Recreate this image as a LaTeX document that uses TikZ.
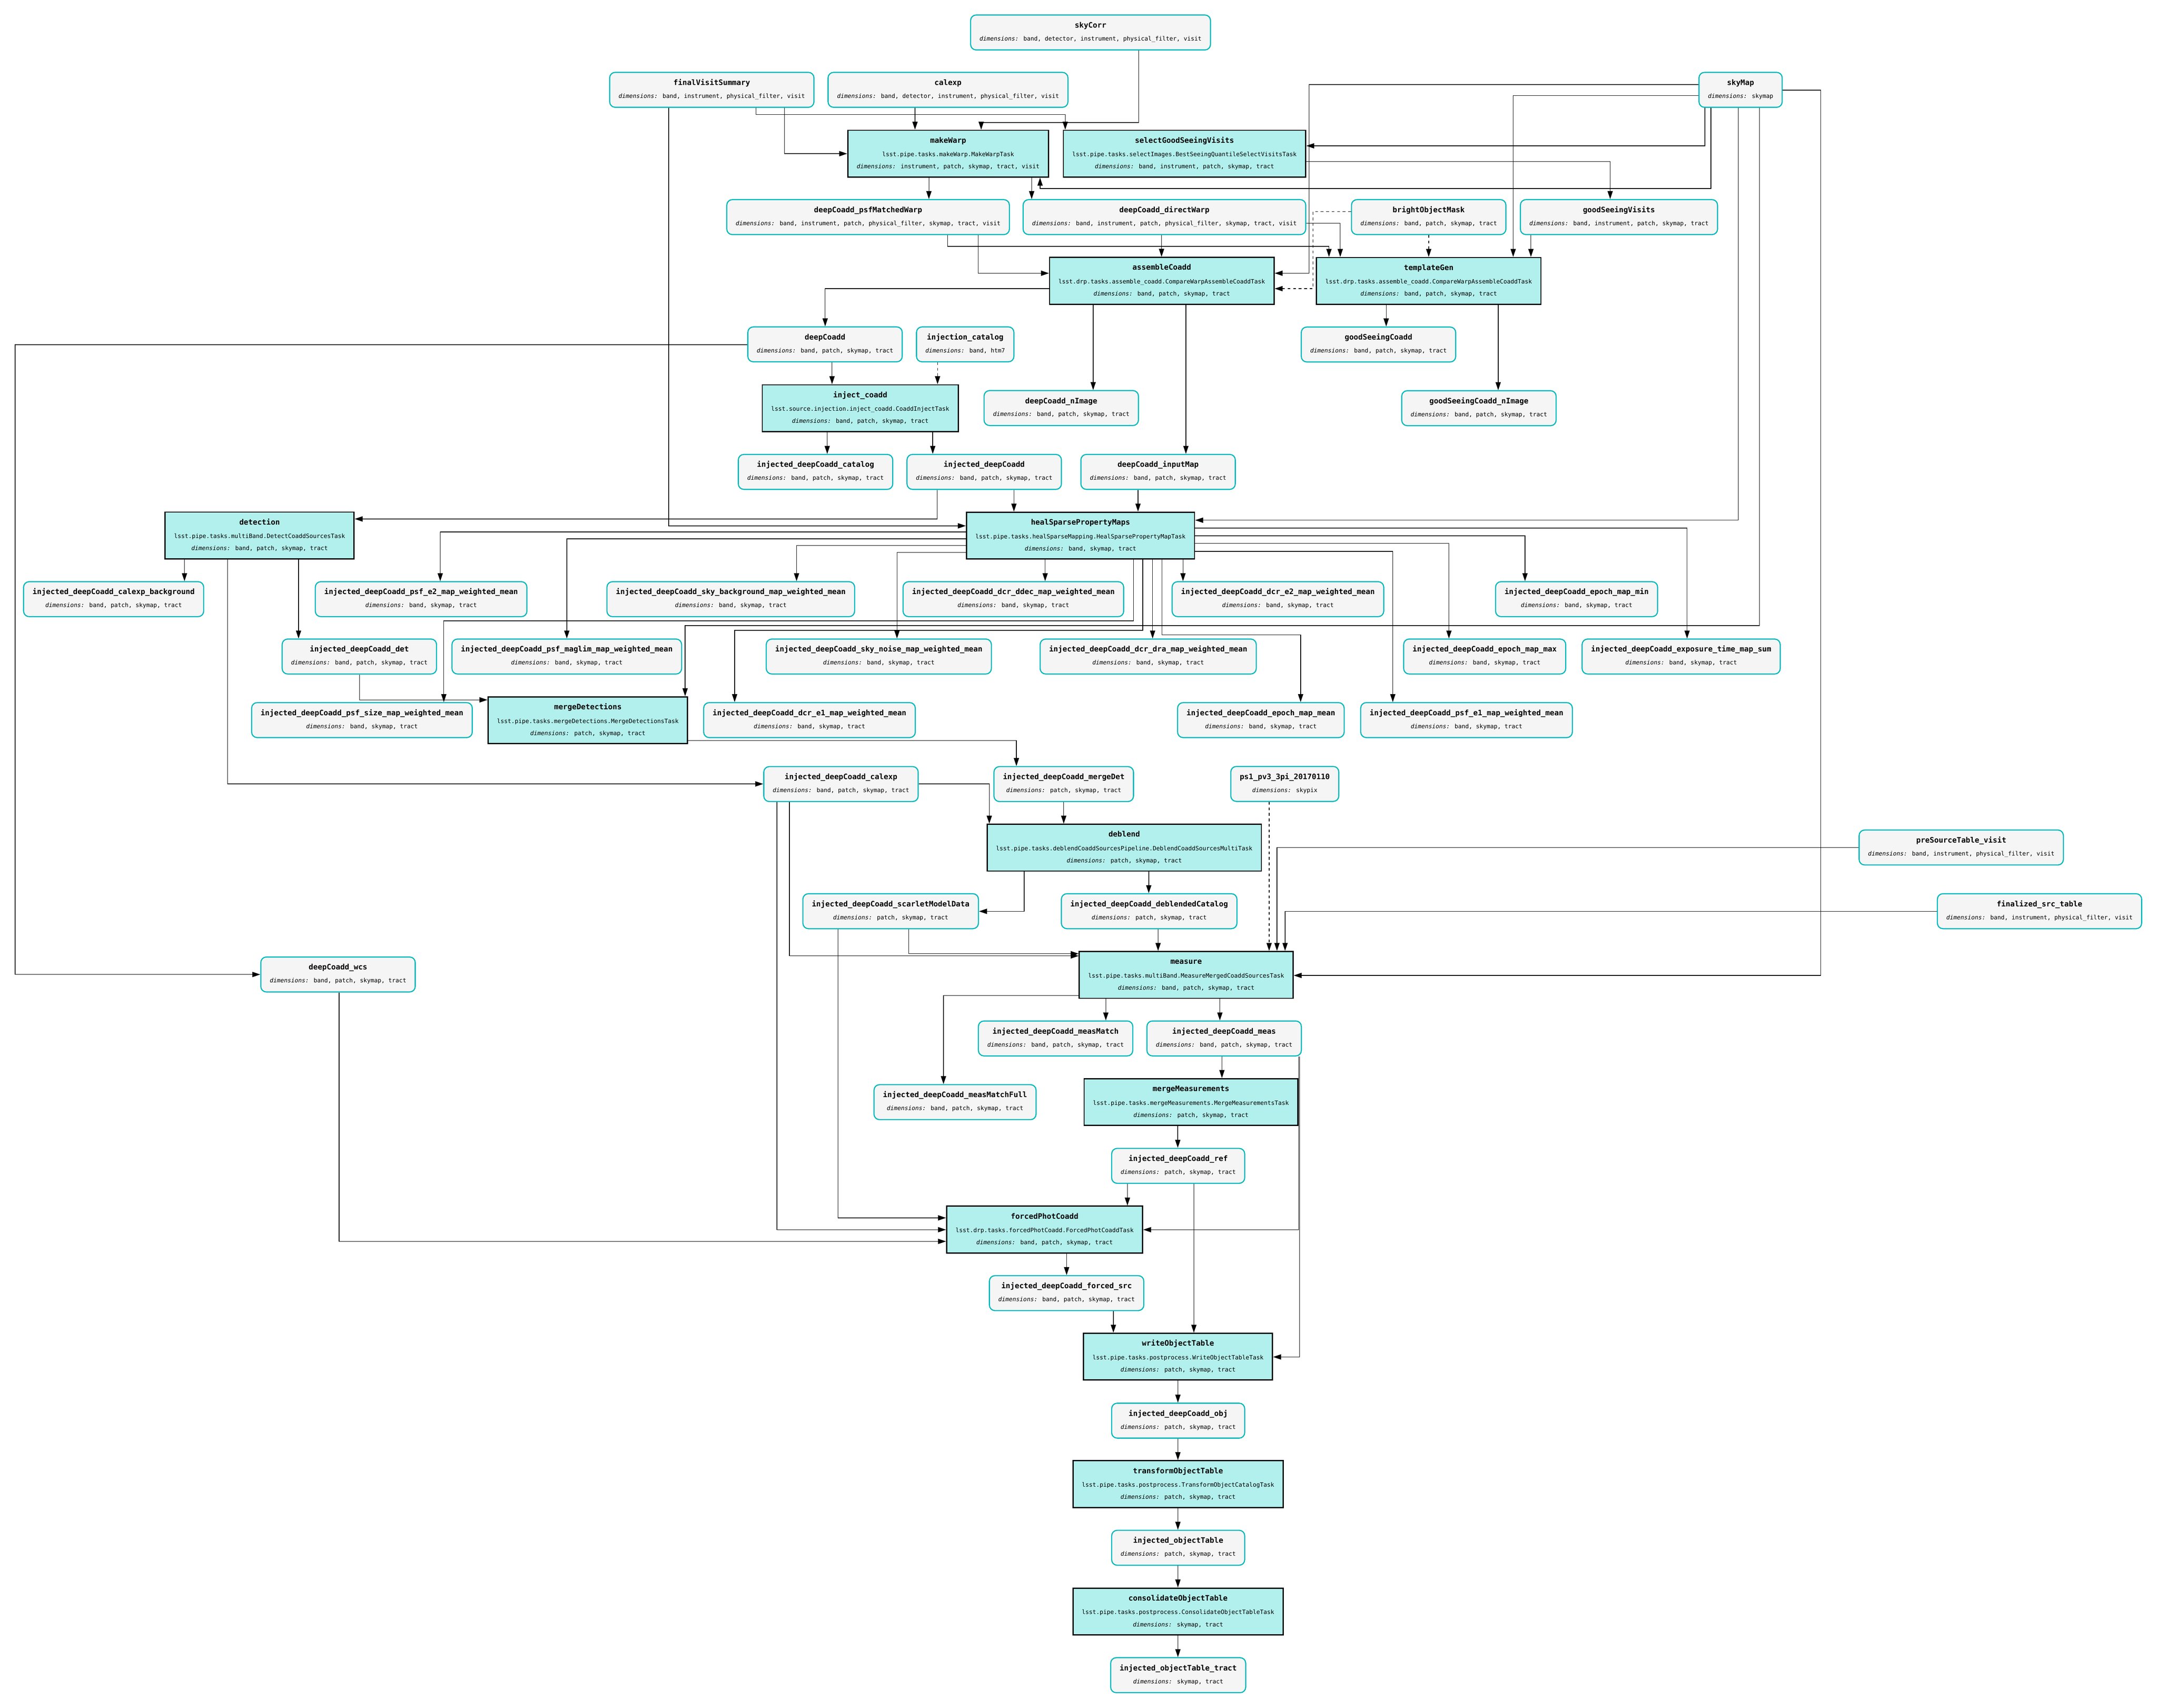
\documentclass[tikz,border=0pt]{standalone}
\usepackage{fontspec}
\setmainfont{DejaVu Sans Mono}[BoldFont={DejaVu Sans Mono Bold},ItalicFont={DejaVu Sans Mono Oblique},BoldItalicFont={DejaVu Sans Mono Bold Oblique}]
\usetikzlibrary{arrows.meta}
\definecolor{dsborder}{RGB}{0,184,188}
\definecolor{dsfill}{RGB}{245,245,245}
\definecolor{tkfill}{RGB}{178,240,237}
\renewcommand\arraystretch{0}
\newcommand\ttlf{\fontsize{5.44pt}{6pt}\selectfont\bfseries}
\newcommand\dtlf{\fontsize{4.3pt}{5pt}\selectfont}
\newcommand\DS[2]{\begin{tabular}{@{}c@{}}\rule[-4.7pt]{0pt}{9.3pt}{\ttlf #1}\\\rule[-2pt]{0pt}{6.7pt}{\dtlf\textit{dimensions:} #2}\end{tabular}}
\newcommand\TK[3]{\begin{tabular}{@{}c@{}}\rule[-4.9pt]{0pt}{9.5pt}{\ttlf #1}\\\rule[-4pt]{0pt}{9pt}{\dtlf #2}\\\rule[-1.5pt]{0pt}{6.3pt}{\dtlf\textit{dimensions:} #3}\end{tabular}}
\tikzset{
 ds/.style={draw=dsborder, fill=dsfill, line width=0.8pt, rounded corners=4pt, minimum height=25.4pt, inner xsep=6.5pt, inner ysep=0pt},
 tk/.style={draw=black, fill=tkfill, line width=0.9pt, minimum height=34pt, inner xsep=6.5pt, inner ysep=0pt},
 e/.style={line width=0.45pt, -{Triangle[length=5.8pt,width=3.8pt]}},
 dsh/.style={e, dash pattern=on 2pt off 2pt},
}
\begin{document}
\begin{tikzpicture}[x=1pt,y=-1pt]
\path[use as bounding box, fill=white] (0,0) rectangle (1567.9,1241.3);
% ---------- nodes ----------
\node[ds] (skyCorr) at (792.7,23.6) {\DS{skyCorr}{band, detector, instrument, physical\_filter, visit}};
\node[ds] (fvs) at (517.4,65.3) {\DS{finalVisitSummary}{band, instrument, physical\_filter, visit}};
\node[ds] (calexp) at (689.1,65.3) {\DS{calexp}{band, detector, instrument, physical\_filter, visit}};
\node[ds] (skyMap) at (1265.2,65.3) {\DS{skyMap}{skymap}};
\node[tk] (makeWarp) at (689.2,111.7) {\TK{makeWarp}{lsst.pipe.tasks.makeWarp.MakeWarpTask}{instrument, patch, skymap, tract, visit}};
\node[tk] (sgsv) at (861,111.7) {\TK{selectGoodSeeingVisits}{lsst.pipe.tasks.selectImages.BestSeeingQuantileSelectVisitsTask}{band, instrument, patch, skymap, tract}};
\node[ds] (psfmw) at (631,157.8) {\DS{deepCoadd\_psfMatchedWarp}{band, instrument, patch, physical\_filter, skymap, tract, visit}};
\node[ds] (dirw) at (846.4,157.8) {\DS{deepCoadd\_directWarp}{band, instrument, patch, physical\_filter, skymap, tract, visit}};
\node[ds] (bom) at (1038.5,157.8) {\DS{brightObjectMask}{band, patch, skymap, tract}};
\node[ds] (gsv) at (1176.8,157.8) {\DS{goodSeeingVisits}{band, instrument, patch, skymap, tract}};
\node[tk] (asm) at (844.5,204.1) {\TK{assembleCoadd}{lsst.drp.tasks.assemble\_coadd.CompareWarpAssembleCoaddTask}{band, patch, skymap, tract}};
\node[tk] (tgen) at (1038.5,204.2) {\TK{templateGen}{lsst.drp.tasks.assemble\_coadd.CompareWarpAssembleCoaddTask}{band, patch, skymap, tract}};
\node[ds] (dc) at (599.7,250.3) {\DS{deepCoadd}{band, patch, skymap, tract}};
\node[ds] (injcat) at (701.6,250.3) {\DS{injection\_catalog}{band, htm7}};
\node[ds] (gsc) at (1002,250.4) {\DS{goodSeeingCoadd}{band, patch, skymap, tract}};
\node[tk] (injc) at (625.3,296.7) {\TK{inject\_coadd}{lsst.source.injection.inject\_coadd.CoaddInjectTask}{band, patch, skymap, tract}};
\node[ds] (dcn) at (771.4,296.6) {\DS{deepCoadd\_nImage}{band, patch, skymap, tract}};
\node[ds] (gscn) at (1075,296.7) {\DS{goodSeeingCoadd\_nImage}{band, patch, skymap, tract}};
\node[ds] (idcat) at (592.8,343) {\DS{injected\_deepCoadd\_catalog}{band, patch, skymap, tract}};
\node[ds] (idc) at (715.4,343) {\DS{injected\_deepCoadd}{band, patch, skymap, tract}};
\node[ds] (dcim) at (841.8,343) {\DS{deepCoadd\_inputMap}{band, patch, skymap, tract}};
\node[tk] (det) at (188.7,389.2) {\TK{detection}{lsst.pipe.tasks.multiBand.DetectCoaddSourcesTask}{band, patch, skymap, tract}};
\node[tk] (hsp) at (785.4,389.3) {\TK{healSparsePropertyMaps}{lsst.pipe.tasks.healSparseMapping.HealSparsePropertyMapTask}{band, skymap, tract}};
\node[ds] (bkg) at (82.6,435.5) {\DS{injected\_deepCoadd\_calexp\_background}{band, patch, skymap, tract}};
\node[ds] (psfe2) at (306.1,435.5) {\DS{injected\_deepCoadd\_psf\_e2\_map\_weighted\_mean}{band, skymap, tract}};
\node[ds] (skybg) at (531.2,435.5) {\DS{injected\_deepCoadd\_sky\_background\_map\_weighted\_mean}{band, skymap, tract}};
\node[ds] (ddec) at (736.6,435.5) {\DS{injected\_deepCoadd\_dcr\_ddec\_map\_weighted\_mean}{band, skymap, tract}};
\node[ds] (dcre2) at (928.9,435.5) {\DS{injected\_deepCoadd\_dcr\_e2\_map\_weighted\_mean}{band, skymap, tract}};
\node[ds] (emin) at (1146,435.5) {\DS{injected\_deepCoadd\_epoch\_map\_min}{band, skymap, tract}};
\node[ds] (idet) at (261.2,477.2) {\DS{injected\_deepCoadd\_det}{band, patch, skymap, tract}};
\node[ds] (maglim) at (412,477.2) {\DS{injected\_deepCoadd\_psf\_maglim\_map\_weighted\_mean}{band, skymap, tract}};
\node[ds] (skynoise) at (638.8,477.2) {\DS{injected\_deepCoadd\_sky\_noise\_map\_weighted\_mean}{band, skymap, tract}};
\node[ds] (dra) at (834.6,477.2) {\DS{injected\_deepCoadd\_dcr\_dra\_map\_weighted\_mean}{band, skymap, tract}};
\node[ds] (emax) at (1079.2,477.2) {\DS{injected\_deepCoadd\_epoch\_map\_max}{band, skymap, tract}};
\node[ds] (exptime) at (1222,477.2) {\DS{injected\_deepCoadd\_exposure\_time\_map\_sum}{band, skymap, tract}};
\node[ds] (psfsize) at (263.1,523.4) {\DS{injected\_deepCoadd\_psf\_size\_map\_weighted\_mean}{band, skymap, tract}};
\node[tk] (mdet) at (427.3,523.5) {\TK{mergeDetections}{lsst.pipe.tasks.mergeDetections.MergeDetectionsTask}{patch, skymap, tract}};
\node[ds] (dcre1) at (588.4,523.4) {\DS{injected\_deepCoadd\_dcr\_e1\_map\_weighted\_mean}{band, skymap, tract}};
\node[ds] (emean) at (916.5,523.4) {\DS{injected\_deepCoadd\_epoch\_map\_mean}{band, skymap, tract}};
\node[ds] (psfe1) at (1066,523.4) {\DS{injected\_deepCoadd\_psf\_e1\_map\_weighted\_mean}{band, skymap, tract}};
\node[ds] (icalexp) at (611.3,569.9) {\DS{injected\_deepCoadd\_calexp}{band, patch, skymap, tract}};
\node[ds] (imdet) at (773.2,569.9) {\DS{injected\_deepCoadd\_mergeDet}{patch, skymap, tract}};
\node[ds] (ps1) at (933.9,569.8) {\DS{ps1\_pv3\_3pi\_20170110}{skypix}};
\node[tk] (deblend) at (817.2,616.1) {\TK{deblend}{lsst.pipe.tasks.deblendCoaddSourcesPipeline.DeblendCoaddSourcesMultiTask}{patch, skymap, tract}};
\node[ds] (pst) at (1425.6,616) {\DS{preSourceTable\_visit}{band, instrument, physical\_filter, visit}};
\node[ds] (scarlet) at (647.4,662.3) {\DS{injected\_deepCoadd\_scarletModelData}{patch, skymap, tract}};
\node[ds] (dbcat) at (835.3,662.3) {\DS{injected\_deepCoadd\_deblendedCatalog}{patch, skymap, tract}};
\node[ds] (fst) at (1482.5,662.3) {\DS{finalized\_src\_table}{band, instrument, physical\_filter, visit}};
\node[ds] (wcs) at (245.7,708.3) {\DS{deepCoadd\_wcs}{band, patch, skymap, tract}};
\node[tk] (meast) at (862.2,708.6) {\TK{measure}{lsst.pipe.tasks.multiBand.MeasureMergedCoaddSourcesTask}{band, patch, skymap, tract}};
\node[ds] (mm) at (767.3,754.8) {\DS{injected\_deepCoadd\_measMatch}{band, patch, skymap, tract}};
\node[ds] (imeas) at (889.8,754.8) {\DS{injected\_deepCoadd\_meas}{band, patch, skymap, tract}};
\node[ds] (mmf) at (694.2,801.1) {\DS{injected\_deepCoadd\_measMatchFull}{band, patch, skymap, tract}};
\node[tk] (mmeas) at (865.7,801) {\TK{mergeMeasurements}{lsst.pipe.tasks.mergeMeasurements.MergeMeasurementsTask}{patch, skymap, tract}};
\node[ds] (ref) at (856.4,847.4) {\DS{injected\_deepCoadd\_ref}{patch, skymap, tract}};
\node[tk] (fpc) at (759.3,893.7) {\TK{forcedPhotCoadd}{lsst.drp.tasks.forcedPhotCoadd.ForcedPhotCoaddTask}{band, patch, skymap, tract}};
\node[ds] (fsrc) at (775.3,939.9) {\DS{injected\_deepCoadd\_forced\_src}{band, patch, skymap, tract}};
\node[tk] (wot) at (856.3,986.1) {\TK{writeObjectTable}{lsst.pipe.tasks.postprocess.WriteObjectTableTask}{patch, skymap, tract}};
\node[ds] (obj) at (856.4,1032.6) {\DS{injected\_deepCoadd\_obj}{patch, skymap, tract}};
\node[tk] (tot) at (856.3,1078.7) {\TK{transformObjectTable}{lsst.pipe.tasks.postprocess.TransformObjectCatalogTask}{patch, skymap, tract}};
\node[ds] (ot) at (856.4,1125) {\DS{injected\_objectTable}{patch, skymap, tract}};
\node[tk] (cot) at (856.3,1171.3) {\TK{consolidateObjectTable}{lsst.pipe.tasks.postprocess.ConsolidateObjectTableTask}{skymap, tract}};
\node[ds] (ott) at (856.4,1217.6) {\DS{injected\_objectTable\_tract}{skymap, tract}};
% ---------- edges ----------
\draw[e] (skyCorr.south -| 827.7,0) -- (827.7,89) -- (713.2,89) -- (makeWarp.north -| 713.2,0);
\draw[e] (calexp.south -| 665.1,0) -- (makeWarp.north -| 665.1,0);
\draw[e] (fvs.south -| 570.3,0) |- (makeWarp.west);
\draw[e] (fvs.south -| 549.5,0) -- (549.5,83.3) -- (774.3,83.3) -- (sgsv.north -| 774.3,0);
\draw[e] (fvs.south -| 486,0) |- (hsp.west |- 0,382.2);
\draw[e] (makeWarp.south -| 675.2,0) -- (psfmw.north -| 675.2,0);
\draw[e] (makeWarp.south -| 749.9,0) -- (dirw.north -| 749.9,0);
\draw[e] (skyMap.south -| 1243.6,0) -- (1243.6,137.1) -- (756,137.1) -- (makeWarp.south -| 756,0);
\draw[e] (skyMap.south -| 1239.3,0) |- (sgsv.east |- 0,106);
\draw[e] (sgsv.east |- 0,117.4) -| (gsv.north -| 1170.4,0);
\draw[e] (skyMap.west |- 0,61.5) -- (951.6,61.5) -- (951.6,198.6) -- (asm.east |- 0,198.6);
\draw[e] (skyMap.west |- 0,69.4) -| (tgen.north -| 1099.9,0);
\draw[e] (gsv.south -| 1112.8,0) -- (tgen.north -| 1112.8,0);
\draw[dsh] (bom.south) -- (bom.south |- tgen.north);
\draw[dsh] (bom.west |- 0,153.8) -- (954.3,153.8) -- (954.3,209.8) -- (asm.east |- 0,209.8);
\draw[e] (dirw.east |- 0,162.2) -| (tgen.north -| 974.2,0);
\draw[e] (psfmw.south -| 688.8,0) -- (688.8,179) -- (966,179) -- (tgen.north -| 966,0);
\draw[e] (psfmw.south -| 711.1,0) |- (asm.west |- 0,198.6);
\draw[e] (dirw.south -| 844.3,0) -- (asm.north -| 844.3,0);
\draw[e] (asm.west |- 0,209.8) -| (dc.north -| 599.8,0);
\draw[e] (asm.south -| 794.6,0) -- (dcn.north -| 794.6,0);
\draw[e] (asm.south -| 862,0) -- (dcim.north -| 862,0);
\draw[e] (tgen.south -| 1007.6,0) -- (gsc.north -| 1007.6,0);
\draw[e] (tgen.south -| 1089,0) -- (gscn.north -| 1089,0);
\draw[e] (skyMap.south -| 1263.5,0) |- (hsp.east |- 0,378.1);
\draw[e] (skyMap.south -| 1278.9,0) -- (1278.9,454.7) -- (498,454.7) -- (mdet.north -| 498,0);
\draw[e] (skyMap.east |- 0,65.5) -- (1323.5,65.5) -- (1323.5,709) -- (meast.east |- 0,709);
\draw[e] (dc.west |- 0,250.6) -- (11,250.6) |- (wcs.west);
\draw[e] (dc.south -| 604.8,0) -- (injc.north -| 604.8,0);
\draw[dsh] (injcat.south -| 681.5,0) -- (injc.north -| 681.5,0);
\draw[e] (injc.south -| 601.3,0) -- (idcat.north -| 601.3,0);
\draw[e] (injc.south -| 678,0) -- (idc.north -| 678,0);
\draw[e] (idc.south -| 681.2,0) |- (det.east |- 0,377.2);
\draw[e] (idc.south -| 737,0) -- (hsp.north -| 737,0);
\draw[e] (dcim.south -| 827.2,0) -- (hsp.north -| 827.2,0);
\draw[e] (det.south -| 134.1,0) -- (bkg.north -| 134.1,0);
\draw[e] (det.south -| 217,0) -- (idet.north -| 217,0);
\draw[e] (det.south -| 165.4,0) |- (icalexp.west |- 0,569.8);
\draw[e] (idet.south -| 261.4,0) |- (mdet.west |- 0,508.7);
\draw[e] (mdet.east |- 0,538.2) -| (imdet.north -| 738.8,0);
\draw[e] (icalexp.east |- 0,569.8) -| (deblend.north -| 719.1,0);
\draw[e] (imdet.south -| 773.2,0) -- (deblend.north -| 773.2,0);
\draw[e] (deblend.south -| 744.4,0) |- (scarlet.east |- 0,662.4);
\draw[e] (deblend.south -| 835,0) -- (dbcat.north -| 835,0);
\draw[e] (dbcat.south -| 841.8,0) -- (meast.north -| 841.8,0);
\draw[e] (scarlet.south -| 660.6,0) |- (meast.west |- 0,693.2);
\draw[e] (icalexp.south -| 573.9,0) |- (meast.west |- 0,694.8);
\draw[dsh] (ps1.south -| 922.5,0) -- (meast.north -| 922.5,0);
\draw[e] (pst.west |- 0,616.1) -| (meast.north -| 928.2,0);
\draw[e] (fst.west |- 0,662.4) -| (meast.north -| 934.1,0);
\draw[e] (meast.south -| 803.8,0) -- (mm.north -| 803.8,0);
\draw[e] (meast.south -| 886.7,0) -- (imeas.north -| 886.7,0);
\draw[e] (meast.west |- 0,723.6) -| (mmf.north -| 685.8,0);
\draw[e] (imeas.south -| 888.2,0) -- (mmeas.north -| 888.2,0);
\draw[e] (imeas.south -| 944.1,0) |- (fpc.east |- 0,893.8);
\draw[e] (imeas.south -| 944.6,0) |- (wot.east |- 0,986.3);
\draw[e] (mmeas.south -| 856.1,0) -- (ref.north -| 856.1,0);
\draw[e] (ref.south -| 819.5,0) -- (fpc.north -| 819.5,0);
\draw[e] (ref.south -| 867.8,0) -- (wot.north -| 867.8,0);
\draw[e] (icalexp.south -| 564.8,0) |- (fpc.west |- 0,893.8);
\draw[e] (scarlet.south -| 609.2,0) |- (fpc.west |- 0,885.2);
\draw[e] (wcs.south -| 246.5,0) |- (fpc.west |- 0,902.3);
\draw[e] (fpc.south -| 775.3,0) -- (fsrc.north -| 775.3,0);
\draw[e] (fsrc.south -| 809.3,0) -- (wot.north -| 809.3,0);
\draw[e] (wot.south -| 856.2,0) -- (obj.north -| 856.2,0);
\draw[e] (obj.south -| 856.2,0) -- (tot.north -| 856.2,0);
\draw[e] (tot.south -| 856.2,0) -- (ot.north -| 856.2,0);
\draw[e] (ot.south -| 856.2,0) -- (cot.north -| 856.2,0);
\draw[e] (cot.south -| 856.2,0) -- (ott.north -| 856.2,0);
% healSparse outputs
\draw[e] (hsp.west |- 0,386.7) -| (psfe2.north -| 320,0);
\draw[e] (hsp.west |- 0,391.6) -| (maglim.north -| 412,0);
\draw[e] (hsp.west |- 0,396.6) -| (skybg.north -| 579,0);
\draw[e] (hsp.west |- 0,401.5) -| (skynoise.north -| 652,0);
\draw[e] (hsp.south -| 823.9,0) -- (823.9,451.3) -- (322.6,451.3) -- (psfsize.north -| 322.6,0);
\draw[e] (hsp.south -| 830.7,0) -- (830.7,458.2) -- (534,458.2) -- (dcre1.north -| 534,0);
\draw[e] (hsp.south -| 759.7,0) -- (ddec.north -| 759.7,0);
\draw[e] (hsp.south -| 837.8,0) -- (dra.north -| 837.8,0);
\draw[e] (hsp.south -| 844.6,0) -- (844.6,461.5) -- (945.4,461.5) -- (emean.north -| 945.4,0);
\draw[e] (hsp.south -| 859.9,0) -- (dcre2.north -| 859.9,0);
\draw[e] (hsp.east |- 0,383.8) -| (exptime.north -| 1226.3,0);
\draw[e] (hsp.east |- 0,389.4) -| (emin.north -| 1108.5,0);
\draw[e] (hsp.east |- 0,395) -| (emax.north -| 1053.2,0);
\draw[e] (hsp.east |- 0,400.7) -| (psfe1.north -| 1012.4,0);
\end{tikzpicture}
\end{document}
